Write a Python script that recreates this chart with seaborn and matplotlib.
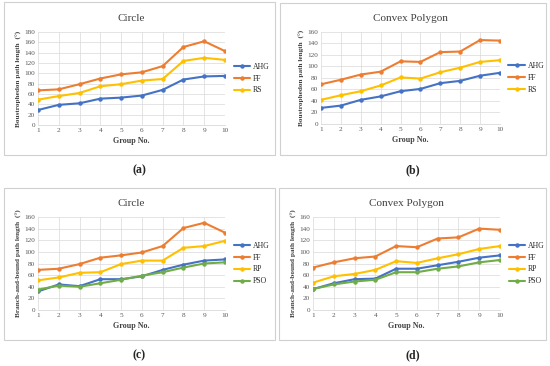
import matplotlib
matplotlib.use("Agg")
import matplotlib.pyplot as plt
import pandas as pd
import seaborn as sns
from matplotlib.patches import Rectangle

groups = list(range(1, 11))

# (a) Circle, boustrophedon
a_ahg = [29, 39, 42, 51, 53, 57, 68, 88, 94, 95]
a_ff = [67, 69, 79, 90, 98, 102, 114, 151, 162, 143]
a_rs = [49, 56, 62, 75, 79, 86, 89, 124, 130, 126]

# (b) Convex polygon, boustrophedon
b_ahg = [28, 32, 42, 48, 57, 61, 71, 75, 84, 89]
b_ff = [69, 77, 86, 91, 109, 108, 125, 126, 146, 145]
b_rs = [42, 50, 57, 67, 81, 79, 90, 98, 108, 111]

# (c) Circle, branch-and-bound
c_ahg = [32, 44, 41, 53, 53, 58, 69, 78, 85, 87]
c_ff = [69, 71, 79, 90, 94, 99, 110, 141, 150, 133]
c_rp = [51, 56, 64, 65, 79, 85, 85, 107, 110, 119]
c_pso = [35, 42, 40, 46, 52, 59, 65, 73, 80, 82]

# (d) Convex polygon, branch-and-bound
d_ahg = [36, 46, 53, 54, 71, 71, 77, 83, 90, 94]
d_ff = [73, 82, 89, 92, 110, 108, 123, 125, 140, 138]
d_rp = [47, 58, 62, 69, 84, 81, 89, 96, 105, 110]
d_pso = [36, 44, 49, 52, 65, 65, 71, 75, 82, 86]

colors = {"AHG": "#4472C4", "FF": "#ED7D31", "RS": "#FFC000", "RP": "#FFC000", "PSO": "#70AD47"}

sns.set_style("white")
plt.rcParams["font.family"] = ["Liberation Serif", "DejaVu Serif"]

W, H = 550, 366
fig = plt.figure(figsize=(W / 100, H / 100), dpi=100)


def fx(px):
    return px / W


def fy(py):
    return 1 - py / H


def panel(box, axbox, title, ylabel, ymax, series, tag):
    bx0, by0, bx1, by1 = box
    fig.patches.append(Rectangle((fx(bx0), fy(by1)), fx(bx1 - bx0), (by1 - by0) / H,
                                 transform=fig.transFigure, fill=False,
                                 edgecolor="#d0d0d0", lw=0.8))
    x0, y0, x1, y1 = axbox
    ax = fig.add_axes([fx(x0), fy(y1), fx(x1 - x0), (y1 - y0) / H])
    df = pd.DataFrame([(g, name, v) for name, vals in series.items()
                       for g, v in zip(groups, vals)],
                      columns=["group", "method", "value"])
    sns.lineplot(data=df, x="group", y="value", hue="method", ax=ax,
                 palette=colors, marker="o", markersize=3.2, markeredgewidth=0,
                 linewidth=1.5)
    ax.set_xlim(1, 10)
    ax.set_ylim(0, ymax)
    ax.set_xticks(groups)
    ax.set_yticks(range(0, ymax + 1, 20))
    ax.tick_params(labelsize=5.2, length=0, pad=2, colors="#595959")
    ax.grid(True, color="#d9d9d9", lw=0.5)
    for s in ["top", "right", "left"]:
        ax.spines[s].set_visible(False)
    ax.spines["bottom"].set_color("#d9d9d9")
    ax.spines["bottom"].set_linewidth(0.6)
    ax.set_xlabel("Group No.", fontsize=5.8, fontweight="bold", color="#404040", labelpad=3)
    ax.set_ylabel(ylabel, fontsize=5.2, fontweight="bold", color="#404040", labelpad=2)
    ax.set_title(title, fontsize=8, color="#404040", pad=8)
    ax.legend(loc="center left", bbox_to_anchor=(1.03, 0.5), frameon=False,
              fontsize=5.6, handlelength=2.1, labelspacing=0.5, borderaxespad=0,
              handletextpad=0.35)
    fig.text(fx((bx0 + bx1) / 2), fy(by1 + 15), tag, ha="center", va="center",
             fontsize=8.5, fontweight="bold")
    return ax


panel((4, 2, 275, 155), (38, 32, 225, 125), "Circle",
      "Boustrophedon path length  (°)", 180,
      {"AHG": a_ahg, "FF": a_ff, "RS": a_rs}, "(a)")
panel((280, 3, 546, 155), (321, 32, 500, 124), "Convex Polygon",
      "Boustrophedon path length  (°)", 160,
      {"AHG": b_ahg, "FF": b_ff, "RS": b_rs}, "(b)")
panel((4, 188, 275, 340), (38, 217, 225, 310), "Circle",
      "Branch-and-bound path length  (°)", 160,
      {"AHG": c_ahg, "FF": c_ff, "RP": c_rp, "PSO": c_pso}, "(c)")
panel((279, 188, 546, 340), (313, 217, 500, 310), "Convex Polygon",
      "Branch-and-bound path length  (°)", 160,
      {"AHG": d_ahg, "FF": d_ff, "RP": d_rp, "PSO": d_pso}, "(d)")

fig.savefig("out.png", dpi=100, facecolor="white")
